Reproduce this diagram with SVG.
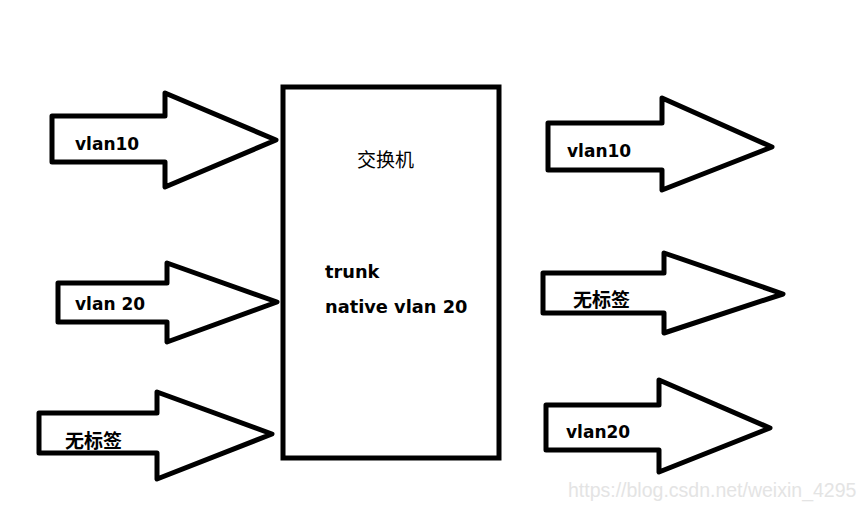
<svg xmlns="http://www.w3.org/2000/svg" width="857" height="519" viewBox="0 0 857 519">
<style>
.arrow{fill:#fff;stroke:#000;stroke-width:5;stroke-linejoin:round}
.box{fill:#fff;stroke:#000;stroke-width:5}
.lbl{font-family:"DejaVu Sans","Noto Sans CJK SC",sans-serif;font-weight:bold;font-size:17px;fill:#000}
.big{font-size:17.8px}
.cjk{font-family:"Noto Sans CJK SC",sans-serif;font-weight:bold;font-size:19px;fill:#000}
.title{font-family:"Noto Sans CJK SC",sans-serif;font-size:19px;fill:#000}
.wm{font-family:"Liberation Sans",Arial,sans-serif;font-size:19.5px;fill:#e4e4e4}
</style>
<rect width="857" height="519" fill="#fff"/>
<g id="connectors">
<polygon id="in-vlan10" class="arrow" points="52,116 165,116 165,93 276,140 165,187 165,162 52,162"/>
<polygon id="in-vlan20" class="arrow" points="58,283 167,283 167,263 277,302 167,342 167,322 58,322"/>
<polygon id="in-untagged" class="arrow" points="39,413 157,413 157,392 272,434 157,479 157,453 39,453"/>
<polygon id="out-vlan10" class="arrow" points="548,123 662,123 662,98 772,147 662,190 662,170 548,170"/>
<polygon id="out-untagged" class="arrow" points="543,273 664,273 664,253 783,294 664,333 664,313 543,313"/>
<polygon id="out-vlan20" class="arrow" points="546,405 659,405 659,380 770,428 659,472 659,450 546,450"/>
</g>
<g id="label-in-vlan10"><text class="lbl" x="75" y="150">vlan10</text></g>
<g id="label-in-vlan20"><text class="lbl" x="75" y="310">vlan 20</text></g>
<g id="label-in-untagged"><text class="cjk" x="65" y="448">无标签</text></g>
<g id="label-out-vlan10"><text class="lbl" x="567" y="157">vlan10</text></g>
<g id="label-out-untagged"><text class="cjk" x="573" y="307">无标签</text></g>
<g id="label-out-vlan20"><text class="lbl" x="566" y="438">vlan20</text></g>
<g id="switch">
<rect class="box" x="283" y="87" width="216" height="371"/>
<text class="title" x="357" y="167">交换机</text>
<text class="lbl big" x="325" y="278">trunk</text>
<text class="lbl big" x="325" y="313">native vlan 20</text>
</g>
<text class="wm" x="568" y="497">https://blog.csdn.net/weixin_4295</text>
</svg>
